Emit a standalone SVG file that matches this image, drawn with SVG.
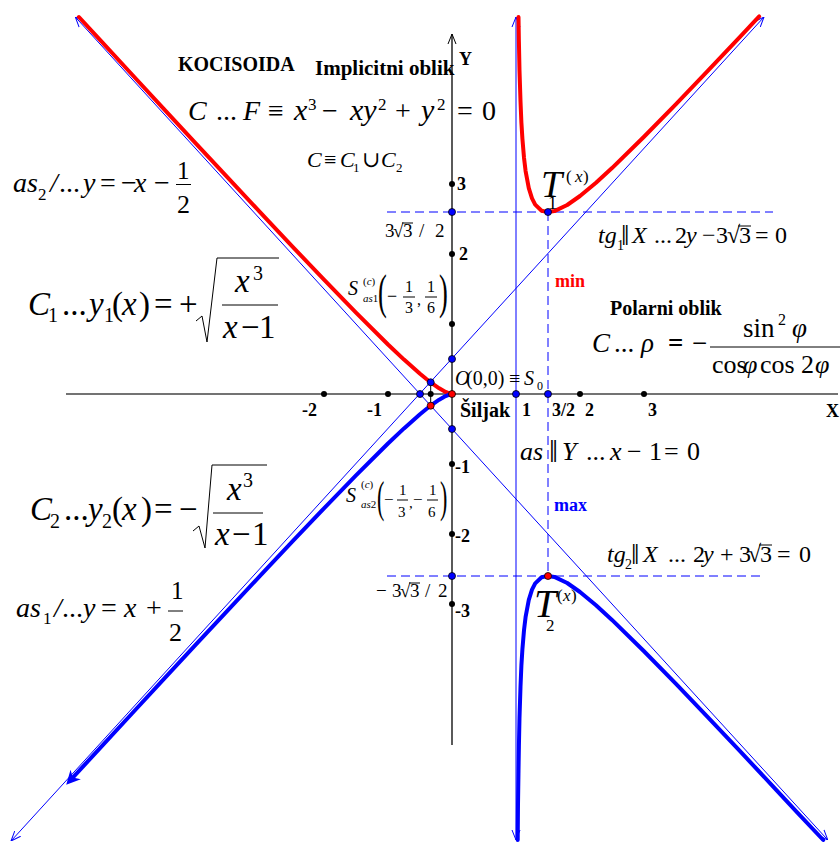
<svg xmlns="http://www.w3.org/2000/svg" width="840" height="843" viewBox="0 0 840 843">
<defs>
<style>
text { font-family: "Liberation Serif", "DejaVu Serif", serif; fill: #000; }
.i { font-style: italic; }
.b { font-weight: bold; }
.thin { fill: none; stroke: #0000ff; stroke-width: 1; }
.dash { fill: none; stroke: #0000ff; stroke-width: 1; stroke-dasharray: 9 5; }
.red { fill: none; stroke: #ff0000; stroke-width: 4; stroke-linejoin: round; stroke-linecap: round; }
.blue { fill: none; stroke: #0000ff; stroke-width: 4; stroke-linejoin: round; stroke-linecap: round; }
.bar { fill: none; stroke: #000; stroke-width: 1; }
.dk { fill: #000; }
.db { fill: #0000ff; stroke: #000; stroke-width: 0.8; }
.dr { fill: #ff0000; stroke: #000; stroke-width: 0.8; }
</style>
<marker id="open" viewBox="0 0 10 10" refX="10" refY="5" markerWidth="10" markerHeight="10" markerUnits="userSpaceOnUse" orient="auto-start-reverse">
<path d="M0,1 L10,5 L0,9" fill="none" stroke="#0000ff" stroke-width="1"/>
</marker>
<marker id="openk" viewBox="0 0 10 10" refX="10" refY="5" markerWidth="10" markerHeight="10" markerUnits="userSpaceOnUse" orient="auto">
<path d="M0,1 L10,5 L0,9" fill="none" stroke="#000" stroke-width="1"/>
</marker>
<marker id="fill" viewBox="0 0 10 10" refX="6" refY="5" markerWidth="14" markerHeight="14" markerUnits="userSpaceOnUse" orient="auto">
<path d="M0,0 L10,5 L0,10 L3,5 z" fill="#0000ff"/>
</marker>
</defs>
<rect width="840" height="843" fill="#fff"/>

<g id="axes">
<line x1="66" y1="394" x2="838" y2="394" stroke="#444" stroke-width="1.5"/>
<line x1="452" y1="745" x2="452" y2="34" stroke="#000" stroke-width="1.3" marker-end="url(#openk)"/>
<line x1="430.7" y1="382" x2="430.7" y2="406" stroke="#000" stroke-width="1"/>
</g>

<g id="connectors">
<line class="thin" x1="11" y1="841" x2="764" y2="17" marker-start="url(#open)" marker-end="url(#open)"/>
<line class="thin" x1="75.3" y1="17" x2="827.8" y2="840" marker-start="url(#open)" marker-end="url(#open)"/>
<line class="thin" x1="516" y1="17" x2="516" y2="840" marker-start="url(#open)" marker-end="url(#open)"/>
<line class="dash" x1="387" y1="212" x2="773" y2="212"/>
<line class="dash" x1="387" y1="576" x2="765" y2="576"/>
<line class="dash" x1="548" y1="212" x2="548" y2="576"/>
</g>

<g id="curve-C1">
<polyline class="red" points="518.5,17 518.9,41.5 519.5,70.5 520.5,101.2 521.4,122.6 522.4,138.6 524,157.7 525.6,171.1 528.8,188.2 532,198.3 535.2,204.6 541.6,210.7 548,212.1 554.4,211.1 567.2,205 580,196 596,182.7 612,168.1 644,136.8 676,104.1 708,70.7 740,36.8 759.2,16.4"/>
<polyline class="red" points="452,394 448.8,393.2 445.6,391.9 439.2,388.3 432.8,383.9 426.4,379 420,373.8 404,359.6 388,344.5 356,312.7 324,279.7 292,246.1 260,212.1 228,177.9 196,143.6 164,109.1 132,74.5 100,39.9 78.9,17"/>
</g>
<g id="curve-C2">
<polyline class="blue" points="517.7,840 518,804.3 518.5,771 518.9,746.5 519.5,717.5 520.5,686.8 521.4,665.4 522.4,649.4 524,630.3 525.6,616.9 528.8,599.8 532,589.7 535.2,583.4 541.6,577.3 548,575.9 554.4,576.9 567.2,583 580,592 596,605.3 612,619.9 644,651.2 676,683.9 708,717.3 740,751.2 772,785.3 797.6,812.8 823.2,840"/>
<polyline class="blue" marker-end="url(#fill)" points="452,394 448.8,394.8 445.6,396.1 439.2,399.7 432.8,404.1 426.4,409 420,414.2 404,428.4 388,443.5 356,475.3 324,508.3 292,541.9 260,575.9 228,610.1 196,644.4 164,678.9 132,713.5 100,748.1 70,780.7"/>
</g>

<g id="points">
<circle class="dk" cx="324" cy="394" r="3"/>
<circle class="dk" cx="388" cy="394" r="3"/>
<circle class="dk" cx="430.7" cy="394" r="3"/>
<circle class="dk" cx="580" cy="394" r="3"/>
<circle class="dk" cx="644" cy="394" r="3"/>
<circle class="dk" cx="452" cy="184" r="3"/>
<circle class="dk" cx="452" cy="254" r="3"/>
<circle class="dk" cx="452" cy="324" r="3"/>
<circle class="dk" cx="452" cy="464" r="3"/>
<circle class="dk" cx="452" cy="534" r="3"/>
<circle class="dk" cx="452" cy="604" r="3"/>
<circle class="db" cx="420" cy="394" r="3.5"/>
<circle class="db" cx="516" cy="394" r="3.5"/>
<circle class="db" cx="548" cy="394" r="3.5"/>
<circle class="db" cx="452" cy="359" r="3.5"/>
<circle class="db" cx="452" cy="429" r="3.5"/>
<circle class="db" cx="430.7" cy="382.3" r="3.5"/>
<circle class="db" cx="452" cy="212" r="3.5"/>
<circle class="db" cx="452" cy="576" r="3.5"/>
<circle class="db" cx="548" cy="212" r="3.5"/>
<circle class="dr" cx="452" cy="394" r="3.5"/>
<circle class="dr" cx="430.7" cy="405.7" r="3.5"/>
<circle class="dr" cx="548" cy="576" r="3.5"/>
</g>

<g id="axis-labels" class="b" font-size="18">
<text class="b" x="302" y="416">-2</text>
<text class="b" x="367" y="416">-1</text>
<text class="b" x="522" y="416">1</text>
<text class="b" x="552" y="416">3/2</text>
<text class="b" x="585" y="416">2</text>
<text class="b" x="648" y="416">3</text>
<text class="b" x="826" y="417">X</text>
<text class="b" x="457" y="190">3</text>
<text class="b" x="459" y="260">2</text>
<text class="b" x="455" y="473">-1</text>
<text class="b" x="455" y="542">-2</text>
<text class="b" x="455" y="617">-3</text>
<text class="b" x="459" y="65">Y</text>
<text class="b" x="460" y="417" font-size="20">Šiljak</text>
</g>

<g id="titles">
<text class="b" x="178" y="71" font-size="20">KOCISOIDA</text>
<text class="b" x="315" y="75" font-size="21">Implicitni oblik</text>
<text class="b" x="610" y="315" font-size="20">Polarni oblik</text>
<text class="b" x="555" y="287" font-size="18" style="fill:#ff0000">min</text>
<text class="b" x="554" y="511" font-size="18" style="fill:#0000ff">max</text>
</g>

<g id="eq-implicit">
<text font-size="28" y="120"><tspan class="i" x="188">C</tspan><tspan x="216">...</tspan><tspan class="i" x="243">F</tspan><tspan x="268">≡</tspan><tspan class="i" x="294" font-size="30">x</tspan><tspan x="308" y="110" font-size="17">3</tspan><tspan x="322" y="120">−</tspan><tspan class="i" x="350" font-size="30">xy</tspan><tspan x="378" y="110" font-size="17">2</tspan><tspan x="395" y="120">+</tspan><tspan class="i" x="421" font-size="30">y</tspan><tspan x="437" y="110" font-size="17">2</tspan><tspan x="457" y="120">=</tspan><tspan x="482">0</tspan></text>
<text font-size="22" y="167"><tspan class="i" x="307">C</tspan><tspan x="324">≡</tspan><tspan class="i" x="340">C</tspan><tspan x="353" y="172" font-size="13">1</tspan><tspan x="362" y="167">∪</tspan><tspan class="i" x="381">C</tspan><tspan x="396" y="172" font-size="13">2</tspan></text>
</g>

<g id="eq-as2">
<text font-size="28" y="192"><tspan class="i" x="13">as</tspan><tspan x="38" y="200" font-size="17">2</tspan><tspan class="i" x="50" y="192">/</tspan><tspan x="59">...</tspan><tspan class="i" x="83">y</tspan><tspan x="100">=</tspan><tspan x="121">−</tspan><tspan class="i" x="134">x</tspan><tspan x="154">−</tspan></text>
<text font-size="25" x="177" y="179">1</text>
<line class="bar" x1="176" y1="184.5" x2="191" y2="184.5"/>
<text font-size="26" x="177" y="213">2</text>
</g>

<g id="eq-C1">
<text font-size="33" y="315"><tspan class="i" x="28">C</tspan><tspan x="48" y="322" font-size="20">1</tspan><tspan x="62" y="315">...</tspan><tspan class="i" x="89">y</tspan><tspan x="104" y="322" font-size="20">1</tspan><tspan x="112" y="315">(</tspan><tspan class="i" x="122">x</tspan><tspan x="139">)</tspan><tspan x="154">=</tspan><tspan x="179">+</tspan></text>
<path class="bar" d="M196,321 L202,316 L207,342 L217,258 L279,258" stroke-width="1.2"/>
<text font-size="33" y="292"><tspan class="i" x="235">x</tspan><tspan x="253" y="280" font-size="20">3</tspan></text>
<line class="bar" x1="222" y1="305" x2="278" y2="305"/>
<text font-size="33" y="338"><tspan class="i" x="223">x</tspan><tspan x="241">−</tspan><tspan x="259">1</tspan></text>
</g>

<g id="eq-C2">
<text font-size="33" y="520"><tspan class="i" x="30">C</tspan><tspan x="50" y="528" font-size="20">2</tspan><tspan x="64" y="520">...</tspan><tspan class="i" x="88">y</tspan><tspan x="102" y="528" font-size="20">2</tspan><tspan x="112" y="520">(</tspan><tspan class="i" x="122">x</tspan><tspan x="141">)</tspan><tspan x="154">=</tspan><tspan x="179">−</tspan></text>
<path class="bar" d="M193,531 L199,526 L205,548 L212,465 L267,465" stroke-width="1.2"/>
<text font-size="33" y="500"><tspan class="i" x="227">x</tspan><tspan x="243" y="487" font-size="20">3</tspan></text>
<line class="bar" x1="213" y1="513" x2="263" y2="513"/>
<text font-size="33" y="545"><tspan class="i" x="215">x</tspan><tspan x="232">−</tspan><tspan x="252">1</tspan></text>
</g>

<g id="eq-as1">
<text font-size="28" y="617"><tspan class="i" x="16">as</tspan><tspan x="43" y="624" font-size="17">1</tspan><tspan class="i" x="54" y="617">/</tspan><tspan x="62">...</tspan><tspan class="i" x="83">y</tspan><tspan x="101">=</tspan><tspan class="i" x="124">x</tspan><tspan x="146">+</tspan></text>
<text font-size="25" x="171" y="599">1</text>
<line class="bar" x1="168" y1="611" x2="183" y2="611"/>
<text font-size="26" x="169" y="641">2</text>
</g>

<g id="eq-tg1">
<text font-size="24" y="243"><tspan class="i" x="598">tg</tspan><tspan x="617" y="250" font-size="14">1</tspan><tspan x="621" y="245" font-size="30">‖</tspan><tspan class="i" x="632" y="243">X</tspan><tspan x="654">...</tspan><tspan x="675">2</tspan><tspan class="i" x="686">y</tspan><tspan x="702">−</tspan><tspan x="716">3</tspan><tspan x="727">√</tspan><tspan x="739">3</tspan><tspan x="755">=</tspan><tspan x="775">0</tspan></text>
<line class="bar" x1="738" y1="226" x2="751" y2="226"/>
</g>

<g id="eq-tg2">
<text font-size="24" y="562"><tspan class="i" x="607">tg</tspan><tspan x="625" y="569" font-size="14">2</tspan><tspan x="631" y="564" font-size="30">‖</tspan><tspan class="i" x="643" y="562">X</tspan><tspan x="668">...</tspan><tspan x="693">2</tspan><tspan class="i" x="703">y</tspan><tspan x="720">+</tspan><tspan x="739">3</tspan><tspan x="748">√</tspan><tspan x="760">3</tspan><tspan x="777">=</tspan><tspan x="799">0</tspan></text>
<line class="bar" x1="759" y1="545" x2="772" y2="545"/>
</g>

<g id="eq-asY">
<text font-size="26" y="460"><tspan class="i" x="520">as</tspan><tspan x="549" y="462" font-size="32">‖</tspan><tspan class="i" x="562" y="460">Y</tspan><tspan x="586">...</tspan><tspan class="i" x="610">x</tspan><tspan x="627">−</tspan><tspan x="649">1</tspan><tspan x="664">=</tspan><tspan x="687">0</tspan></text>
</g>

<g id="eq-polar">
<text font-size="27" y="352"><tspan class="i" x="592">C</tspan><tspan x="614">...</tspan><tspan class="i" x="641">ρ</tspan><tspan x="668" font-weight="bold">=</tspan><tspan x="692">−</tspan></text>
<line class="bar" x1="710" y1="347" x2="840" y2="347"/>
<text font-size="27" y="337"><tspan x="743">sin</tspan><tspan x="778" y="325" font-size="16">2</tspan><tspan class="i" x="792" y="337">φ</tspan></text>
<text font-size="26" y="373"><tspan x="712">cos</tspan><tspan class="i" x="743">φ</tspan><tspan x="760">cos</tspan><tspan x="801">2</tspan><tspan class="i" x="815">φ</tspan></text>
</g>

<g id="labels-small">
<text font-size="19" y="237"><tspan x="385">3</tspan><tspan x="393">√</tspan><tspan x="403">3</tspan><tspan x="419">/</tspan><tspan x="435">2</tspan></text>
<line class="bar" x1="402" y1="223" x2="413" y2="223"/>
<text font-size="19" y="597"><tspan x="376">−</tspan><tspan x="392">3</tspan><tspan x="400">√</tspan><tspan x="410">3</tspan><tspan x="425">/</tspan><tspan x="438">2</tspan></text>
<line class="bar" x1="409" y1="583" x2="420" y2="583"/>
<text font-size="20" y="385"><tspan class="i" x="455">O</tspan><tspan x="466">(0,0)</tspan><tspan x="509">≡</tspan><tspan class="i" x="524">S</tspan><tspan x="537" y="390" font-size="12">0</tspan></text>
</g>

<g id="label-S1">
<text font-size="20" y="295"><tspan class="i" x="348">S</tspan><tspan x="363" y="285" font-size="11">(</tspan><tspan class="i" font-size="11">c</tspan><tspan font-size="11">)</tspan><tspan class="i" x="363" y="302" font-size="11">as</tspan><tspan y="302" font-size="11">1</tspan></text>
<text font-size="48" transform="translate(378,308) scale(0.55,1)">(</text>
<text font-size="18" x="387" y="302">−</text>
<text font-size="16" x="405" y="292">1</text>
<line class="bar" x1="403" y1="297" x2="415" y2="297"/>
<text font-size="16" x="405" y="313">3</text>
<text font-size="16" x="417" y="305">,</text>
<text font-size="16" x="427" y="292">1</text>
<line class="bar" x1="425" y1="297" x2="437" y2="297"/>
<text font-size="16" x="427" y="313">6</text>
<text font-size="48" transform="translate(439,308) scale(0.55,1)">)</text>
</g>

<g id="label-S2">
<text font-size="20" y="502"><tspan class="i" x="346">S</tspan><tspan x="361" y="488" font-size="11">(</tspan><tspan class="i" font-size="11">c</tspan><tspan font-size="11">)</tspan><tspan class="i" x="361" y="508" font-size="11">as</tspan><tspan y="508" font-size="11">2</tspan></text>
<text font-size="44" transform="translate(377,512) scale(0.5,1)">(</text>
<text font-size="17" x="384" y="505">−</text>
<text font-size="15" x="399" y="495">1</text>
<line class="bar" x1="397" y1="500" x2="408" y2="500"/>
<text font-size="15" x="398" y="517">3</text>
<text font-size="15" x="409" y="508">,</text>
<text font-size="17" x="413" y="505">−</text>
<text font-size="15" x="429" y="495">1</text>
<line class="bar" x1="427" y1="500" x2="438" y2="500"/>
<text font-size="15" x="428" y="517">6</text>
<text font-size="44" transform="translate(440,512) scale(0.5,1)">)</text>
</g>

<g id="label-T1">
<text class="i" font-size="38" x="541" y="197">T</text>
<text font-size="18" x="548" y="209">1</text>
<text font-size="17" y="182"><tspan x="566">(</tspan><tspan class="i" x="575">x</tspan><tspan x="583">)</tspan></text>
</g>
<g id="label-T2">
<text class="i" font-size="40" x="534" y="617">T</text>
<text font-size="17" x="546" y="631">2</text>
<text font-size="17" y="601"><tspan x="557">(</tspan><tspan class="i" x="563">x</tspan><tspan x="571">)</tspan></text>
</g>
</svg>
